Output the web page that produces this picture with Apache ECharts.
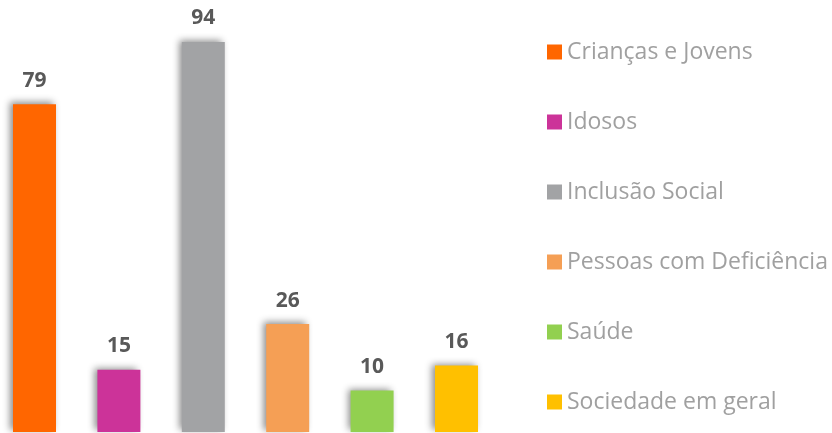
<!DOCTYPE html>
<html>
<head>
<meta charset="utf-8">
<script src="https://cdn.jsdelivr.net/npm/echarts@6/dist/echarts.min.js"></script>
<style>
  html, body { margin: 0; padding: 0; background: #fff; }
  #chart { width: 832px; height: 433px; }
</style>
</head>
<body>
<div id="chart"></div>
<script>
// categorias e valores
var categorias = ['Crianças e Jovens', 'Idosos', 'Inclusão Social', 'Pessoas com Deficiência', 'Saúde', 'Sociedade em geral'];
var valores = [79, 15, 94, 26, 10, 16];
var cores = ['#FF6600', '#CC3399', '#A2A3A5', '#F59F55', '#92D050', '#FFC000'];

var series = categorias.map(function(nome, i) {
  var dados = categorias.map(function(c, j) { return j === i ? valores[i] : '-'; });
  return {
    name: nome,
    type: 'bar',
    stack: 'total',
    barWidth: 43,
    data: dados,
    itemStyle: {
      color: cores[i],
      shadowColor: 'rgba(0,0,0,0.45)',
      shadowBlur: 7,
      shadowOffsetX: -3,
      shadowOffsetY: -2
    },
    label: {
      show: true,
      position: 'top',
      distance: 13,
      color: '#595959',
      fontSize: 21,
      fontWeight: 'bold',
      fontFamily: 'Open Sans'
    }
  };
});

var myChart = echarts.init(document.getElementById('chart'));
myChart.setOption({
  animation: false,
  // boundaryGap false: centros das barras nas pontas da grelha
  grid: { left: 34.5, right: 375.5, top: 17, bottom: 1, containLabel: false },
  legend: {
    orient: 'vertical',
    left: 542,
    top: 35,
    itemGap: 46,
    itemWidth: 15,
    itemHeight: 15,
    icon: 'rect',
    textStyle: { color: '#A0A0A0', fontSize: 23, lineHeight: 24, fontFamily: 'Open Sans' },
    data: categorias
  },
  xAxis: {
    type: 'category',
    data: categorias,
    boundaryGap: false,
    show: false
  },
  yAxis: {
    type: 'value',
    min: 0,
    max: 100,
    show: false
  },
  series: series
});
window.addEventListener('resize', function() {
  myChart.resize();
});
</script>
</body>
</html>
